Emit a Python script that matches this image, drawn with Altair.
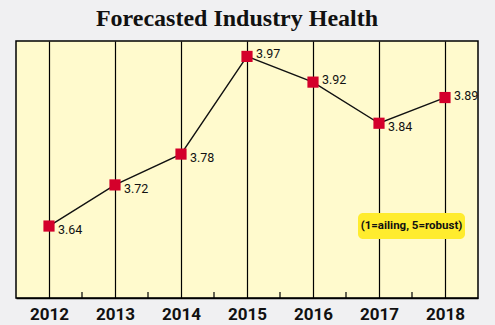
import altair as alt
import pandas as pd

years = ["2012", "2013", "2014", "2015", "2016", "2017", "2018"]
values = [3.64, 3.72, 3.78, 3.97, 3.92, 3.84, 3.89]
label_text = ["3.64", "3.72", "3.78", "3.97", "3.92", "3.84", "3.89"]
title_text = "Forecasted Industry Health"
note_text = "(1=ailing, 5=robust)"

df = pd.DataFrame({"year": years, "value": values, "label": label_text})

W, H = 462, 257

x = alt.X("year:O", scale=alt.Scale(type="point", padding=0.5),
          axis=alt.Axis(title=None, grid=True, gridColor="#000000", gridWidth=1.2,
                        gridOpacity=1, ticks=False, domain=True, domainColor="#000000",
                        domainWidth=1.5, labelAngle=0, labelFont="Roboto",
                        labelFontSize=17, labelFontWeight="bold", labelColor="#111111",
                        labelPadding=8))
y = alt.Y("value:Q", scale=alt.Scale(domain=[3.5, 4.0], nice=False, zero=False), axis=None)

base = alt.Chart(df)

minor = base.transform_filter("datum.year != '2018'").mark_rule(
    color="#000000", strokeWidth=1.2, xOffset=33
).encode(x=x, y=alt.value(H - 6), y2=alt.value(H))

line = base.mark_line(color="#111111", strokeWidth=1.4).encode(x=x, y=y)
pts = base.mark_square(color="#d4002b", size=125, opacity=1).encode(x=x, y=y)

lab_hi = base.transform_filter("datum.value >= 3.885").mark_text(
    align="left", baseline="middle", dx=9, dy=-2, font="Roboto", fontSize=12.5,
    color="#111111"
).encode(x=x, y=y, text="label:N")
lab_lo = base.transform_filter("datum.value < 3.885").mark_text(
    align="left", baseline="middle", dx=9, dy=4, font="Roboto", fontSize=12.5,
    color="#111111"
).encode(x=x, y=y, text="label:N")

note_df = pd.DataFrame({"t": [note_text]})
note_box = alt.Chart(note_df).mark_rect(color="#ffec2e", cornerRadius=5).encode(
    x=alt.value(342), x2=alt.value(449), y=alt.value(172), y2=alt.value(198))
note = alt.Chart(note_df).mark_text(
    font="Roboto", fontSize=11.5, fontWeight="bold", color="#111111", align="center",
    baseline="middle"
).encode(x=alt.value(395.5), y=alt.value(185), text="t:N")

title_df = pd.DataFrame({"t": [title_text]})
title = alt.Chart(title_df).mark_text(
    font="Liberation Serif", fontSize=24, fontWeight="bold", color="#111111",
    align="center", baseline="alphabetic"
).encode(x=alt.value(221), y=alt.value(-15.5), text="t:N")

chart = alt.layer(minor, line, pts, lab_hi, lab_lo, note_box, note, title).properties(
    width=W, height=H,
    background="#f0f0f2",
    padding={"left": 16, "top": 41, "right": 17, "bottom": 27},
    autosize=alt.AutoSizeParams(type="none"),
).configure_view(fill="#fffacd", stroke="#000000", strokeWidth=1.5)

chart.save("out.html", embed_options={"renderer": "svg", "actions": False})
